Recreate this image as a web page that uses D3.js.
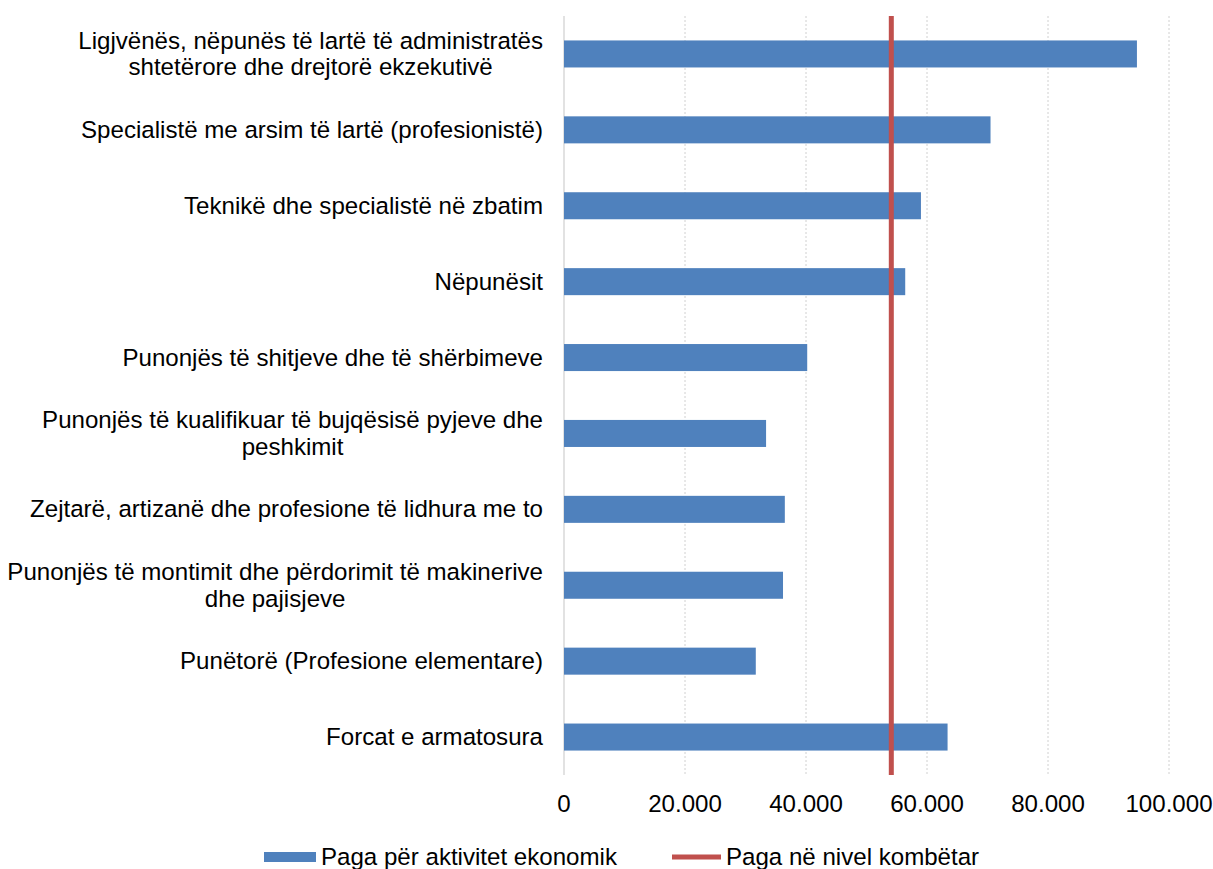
<!DOCTYPE html>
<html>
<head>
<meta charset="utf-8">
<script src="https://cdn.jsdelivr.net/npm/d3@7"></script>
<style>
  body { margin: 0; background: #fff; }
  text { font-family: "Liberation Sans", Arial, sans-serif; fill: #000; }
</style>
</head>
<body>
<div id="chart"></div>
<script>
// kategoritë (rreshtat me tekst të mbështjellë)
const categories = [
  ["Ligjvënës, nëpunës të lartë të administratës", "shtetërore dhe drejtorë ekzekutivë"],
  ["Specialistë me arsim të lartë (profesionistë)"],
  ["Teknikë dhe specialistë në zbatim"],
  ["Nëpunësit"],
  ["Punonjës të shitjeve dhe të shërbimeve"],
  ["Punonjës të kualifikuar të bujqësisë pyjeve dhe", "peshkimit"],
  ["Zejtarë, artizanë dhe profesione të lidhura me to"],
  ["Punonjës të montimit dhe përdorimit të makinerive", "dhe pajisjeve"],
  ["Punëtorë (Profesione elementare)"],
  ["Forcat e armatosura"]
];
const wages = [94700, 70500, 59000, 56400, 40200, 33400, 36500, 36200, 31700, 63400];
const nationalWage = 54100;
const xTicks = [0, 20000, 40000, 60000, 80000, 100000];
const legendLabels = ["Paga për aktivitet ekonomik", "Paga në nivel kombëtar"];

const width = 1213, height = 869;
const margin = { left: 564, top: 16, right: 44, bottom: 94 };
const blue = "#4F81BD", red = "#C0504D";
const fontSize = 24.1;

const svg = d3.select("#chart").append("svg")
  .attr("width", width).attr("height", height);

const x = d3.scaleLinear().domain([0, 100000]).range([margin.left, width - margin.right]);
const y = d3.scaleBand().domain(d3.range(categories.length))
  .range([margin.top, height - margin.bottom]).paddingInner(0.644).paddingOuter(0.322);

// rrjeti
svg.append("g").selectAll("line")
  .data(xTicks.slice(1))
  .enter().append("line")
  .attr("x1", d => x(d)).attr("x2", d => x(d))
  .attr("y1", margin.top).attr("y2", height - margin.bottom)
  .attr("stroke", "#d0d0d0").attr("stroke-dasharray", "2,2");

svg.append("line")
  .attr("x1", x(0)).attr("x2", x(0))
  .attr("y1", margin.top).attr("y2", height - margin.bottom)
  .attr("stroke", "#d9d9d9").attr("stroke-width", 1.5);

// shtyllat
svg.append("g").selectAll("rect")
  .data(wages)
  .enter().append("rect")
  .attr("x", x(0))
  .attr("y", (d, i) => y(i))
  .attr("width", d => x(d) - x(0))
  .attr("height", y.bandwidth())
  .attr("fill", blue);

// vija kombëtare
svg.append("line")
  .attr("x1", x(nationalWage)).attr("x2", x(nationalWage))
  .attr("y1", margin.top).attr("y2", height - margin.bottom)
  .attr("stroke", red).attr("stroke-width", 5);

// etiketat e boshtit x
const fmt = d => d3.format(",")(d).replace(/,/g, ".");
svg.append("g").selectAll("text")
  .data(xTicks)
  .enter().append("text")
  .attr("x", d => x(d))
  .attr("y", 812)
  .attr("text-anchor", "middle")
  .style("font-size", fontSize + "px")
  .text(fmt);

// etiketat e kategorive
const labelRight = 543;
const lineH = 26.5;
categories.forEach((lines, i) => {
  const cy = y(i) + y.bandwidth() / 2;
  const g = svg.append("g");
  const texts = lines.map((ln, j) => g.append("text")
    .attr("y", cy + (j - (lines.length - 1) / 2) * lineH + 8)
    .attr("text-anchor", "middle")
    .style("font-size", fontSize + "px")
    .text(ln));
  const maxW = d3.max(texts, t => t.node().getComputedTextLength());
  texts.forEach(t => t.attr("x", labelRight - maxW / 2));
});

// legjenda
const ly = 857;
svg.append("rect").attr("x", 264).attr("y", ly - 5).attr("width", 52).attr("height", 10).attr("fill", blue);
svg.append("text").attr("x", 321).attr("y", ly + 8).style("font-size", fontSize + "px").text(legendLabels[0]);
svg.append("line").attr("x1", 672).attr("x2", 721).attr("y1", ly).attr("y2", ly)
  .attr("stroke", red).attr("stroke-width", 5);
svg.append("text").attr("x", 726).attr("y", ly + 8).style("font-size", fontSize + "px").text(legendLabels[1]);
</script>
</body>
</html>
